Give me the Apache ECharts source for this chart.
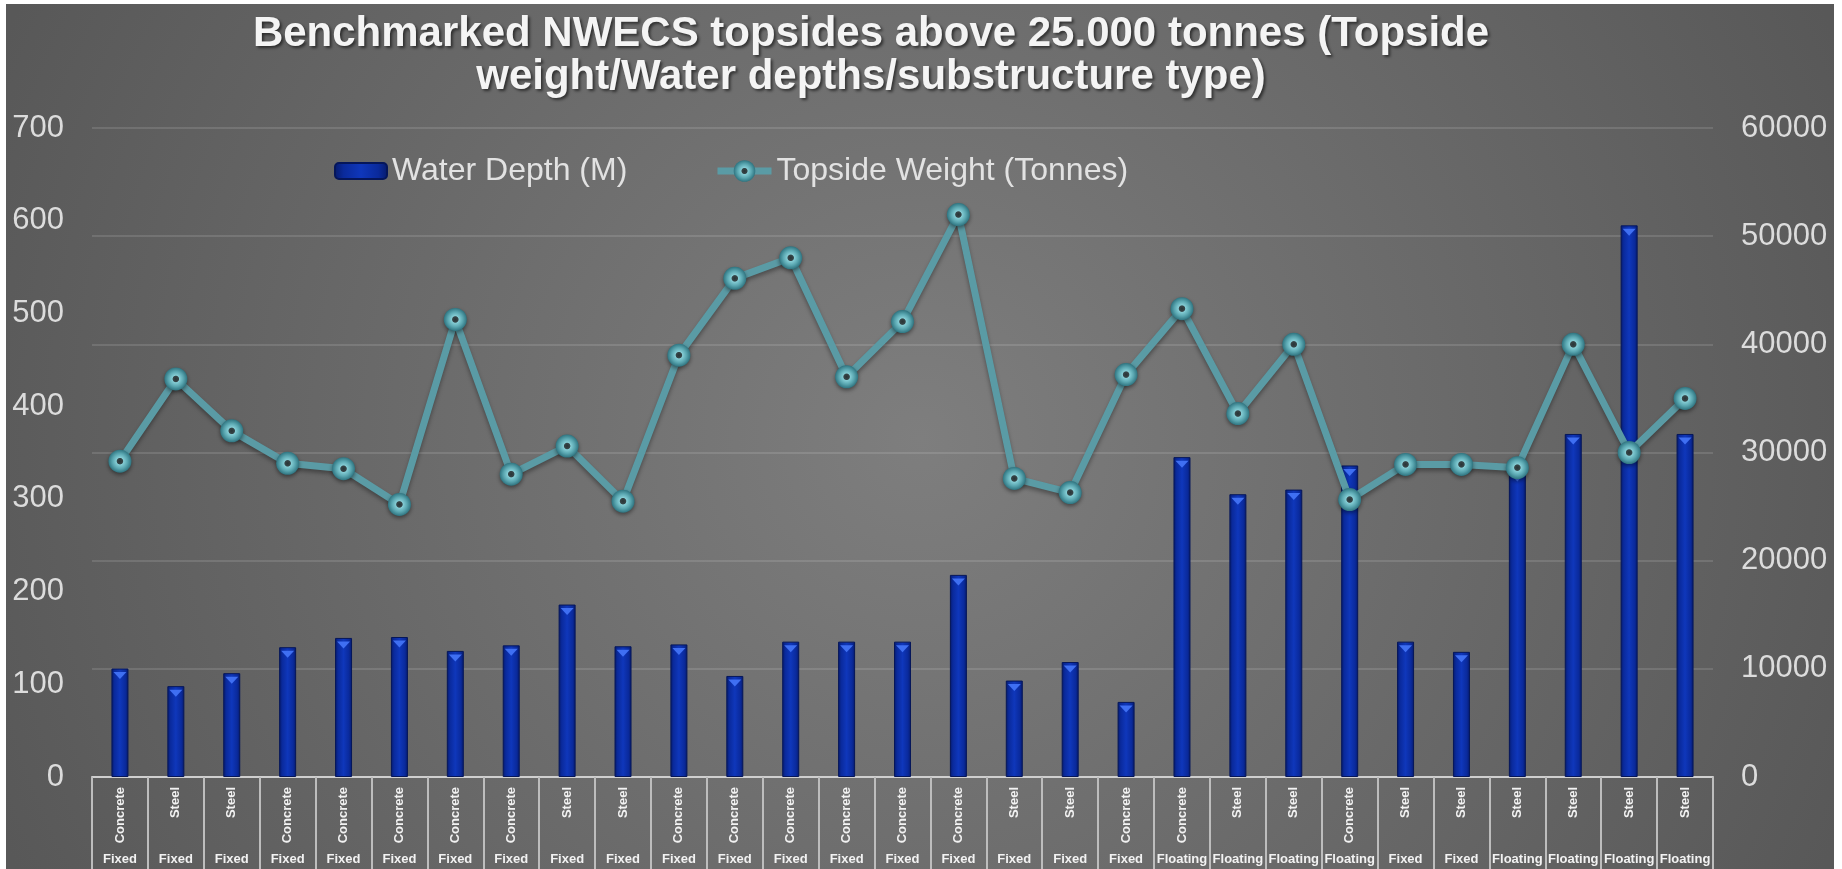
<!DOCTYPE html>
<html><head><meta charset="utf-8">
<script src="https://cdn.jsdelivr.net/npm/echarts@6/dist/echarts.min.js"></script>
<style>html,body{margin:0;padding:0;background:#fff;}#c{width:1842px;height:869px;}</style>
</head><body><div id="c"></div>
<script>
const material = ['Concrete','Steel','Steel','Concrete','Concrete','Concrete','Concrete','Concrete','Steel','Steel','Concrete','Concrete','Concrete','Concrete','Concrete','Concrete','Steel','Steel','Concrete','Concrete','Steel','Steel','Concrete','Steel','Steel','Steel','Steel','Steel','Steel'];
const substructure = ['Fixed','Fixed','Fixed','Fixed','Fixed','Fixed','Fixed','Fixed','Fixed','Fixed','Fixed','Fixed','Fixed','Fixed','Fixed','Fixed','Fixed','Fixed','Fixed','Floating','Floating','Floating','Floating','Fixed','Fixed','Floating','Floating','Floating','Floating'];
const waterDepth = [117,98,112,140,150,151,136,142,186,141,143,109,146,146,146,218,104,124,81,345,305,310,336,146,135,330,370,595,370];
const topsideWeight = [29200,36800,32000,29000,28500,25200,42300,28000,30600,25500,39000,46100,48000,37000,42100,52000,27600,26300,37200,43300,33600,40000,25650,28900,28900,28600,40000,30000,35000];
const titleText = 'Benchmarked NWECS topsides above 25.000 tonnes (Topside\nweight/Water depths/substructure type)';
const seriesNames = ['Water Depth (M)','Topside Weight (Tonnes)'];

const FONT = 'Liberation Sans, Arial, sans-serif';
const chart = echarts.init(document.getElementById('c'), null, {renderer:'canvas'});
const barGrad = new echarts.graphic.LinearGradient(0,0,1,0,[
  {offset:0,color:'#061a6a'},{offset:0.18,color:'#0a2a9c'},{offset:0.5,color:'#0f37bb'},{offset:0.82,color:'#0a2a9c'},{offset:1,color:'#061a6a'}]);
const markerGrad = new echarts.graphic.RadialGradient(0.5,0.5,0.5,[
  {offset:0,color:'#2a3436'},{offset:0.24,color:'#364548'},{offset:0.32,color:'#84ccd4'},{offset:0.65,color:'#5aa7b1'},{offset:1,color:'#2f7480'}]);
const legendText = {fontFamily:FONT,fontSize:32,color:'#e2e2e2'};
const axisText = {color:'#dcdcdc',fontSize:31,fontFamily:FONT};
const option = {
  animation:false,
  graphic:{elements:[{type:'rect',z:-10,silent:true,shape:{x:6,y:4,width:1828,height:870},
    style:{fill:new echarts.graphic.RadialGradient(0.5,0.5,1.15,[{offset:0,color:'#7e7e7e'},{offset:1,color:'#585858'}])}}]},
  title:{text:titleText,left:866,top:8,textAlign:'center',
    textStyle:{fontFamily:FONT,fontSize:42,fontWeight:'bold',color:'#f4f4f4',lineHeight:43,
      textShadowColor:'rgba(0,0,0,0.55)',textShadowBlur:3,textShadowOffsetX:2,textShadowOffsetY:2}},
  legend:[
    {data:[seriesNames[0]],left:329,top:150,itemWidth:52,itemHeight:16,textStyle:legendText},
    {data:[{name:seriesNames[1],lineStyle:{width:7}}],left:709,top:150,itemWidth:54,itemHeight:27,textStyle:legendText}
  ],
  grid:{left:92,right:129,top:128,bottom:92},
  xAxis:[
    {type:'category',data:material,position:'bottom',
     axisLine:{lineStyle:{color:'#cfcfcf',width:2}},
     axisTick:{show:true,interval:0,length:93,lineStyle:{color:'#bdbdbd',width:2}},
     axisLabel:{interval:0,rotate:90,margin:10,color:'#f2f2f2',fontSize:13,fontWeight:'bold',fontFamily:FONT},
     splitLine:{show:false}},
    {type:'category',data:substructure,position:'bottom',
     axisLine:{show:false},axisTick:{show:false},
     axisLabel:{interval:0,margin:76,color:'#f2f2f2',fontSize:13,fontWeight:'bold',fontFamily:FONT},
     splitLine:{show:false}}
  ],
  yAxis:[
    {type:'value',min:0,max:700,interval:100,position:'left',
     axisLine:{show:false},axisTick:{show:false},splitLine:{show:false},
     axisLabel:Object.assign({margin:28},axisText)},
    {type:'value',min:0,max:60000,interval:10000,position:'right',
     axisLine:{show:false},axisTick:{show:false},
     splitLine:{lineStyle:{color:'rgba(255,255,255,0.12)',width:2}},
     axisLabel:Object.assign({margin:28,formatter:function(v){return String(v);}},axisText)}
  ],
  series:[
    {name:seriesNames[0],type:'bar',xAxisIndex:0,yAxisIndex:0,data:waterDepth,barWidth:17,
     itemStyle:{color:barGrad,borderColor:'#05165a',borderWidth:1},z:2},
    {type:'pictorialBar',xAxisIndex:0,yAxisIndex:0,data:waterDepth,symbol:'triangle',symbolRotate:180,
     symbolSize:[13,7],symbolPosition:'end',symbolOffset:[0,'50%'],itemStyle:{color:'#3f6ff2'},z:3,silent:true},
    {name:seriesNames[1],type:'line',xAxisIndex:0,yAxisIndex:1,data:topsideWeight,symbol:'circle',symbolSize:23,
     lineStyle:{color:'#5a9ba5',width:7,shadowColor:'rgba(0,0,0,0.35)',shadowBlur:4,shadowOffsetY:3},
     itemStyle:{color:markerGrad,shadowColor:'rgba(0,0,0,0.45)',shadowBlur:4,shadowOffsetY:2},z:5}
  ]
};
chart.setOption(option);
</script></body></html>
